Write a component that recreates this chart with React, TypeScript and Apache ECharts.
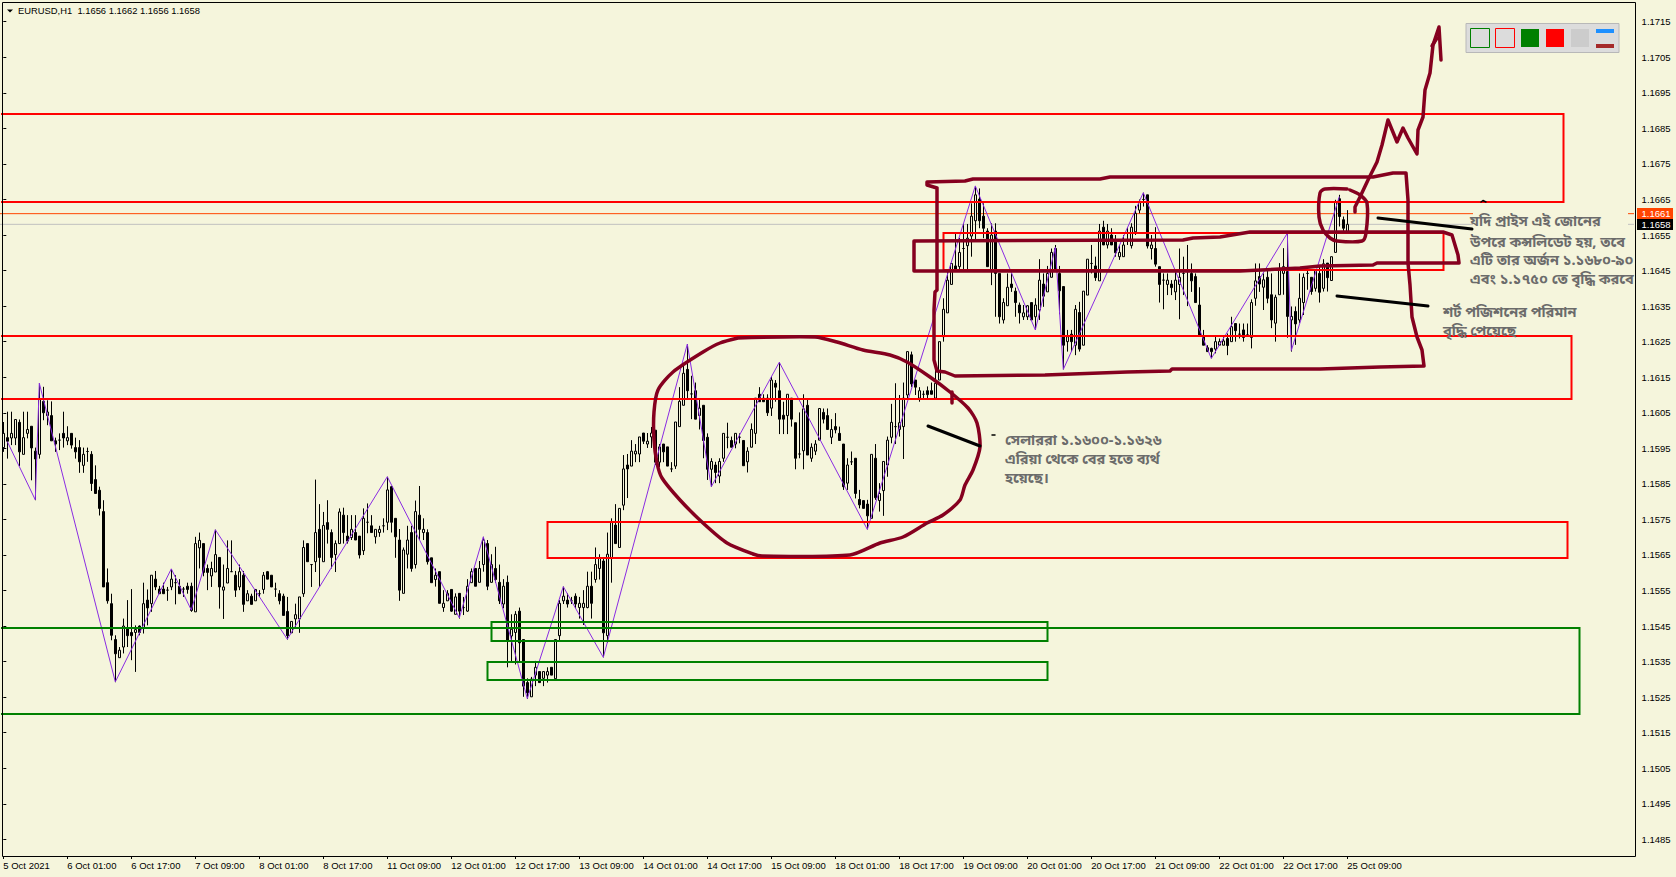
import React, { useEffect, useRef } from "react";
import * as echarts from "echarts";

const BG = "#f5f5dc";
const HAND = "#85001f";
const SCALE = 100000;
const BAR_SLOTS = 408;

const tickLabels = ["5 Oct 2021","6 Oct 01:00","6 Oct 17:00","7 Oct 09:00","8 Oct 01:00","8 Oct 17:00","11 Oct 09:00","12 Oct 01:00","12 Oct 17:00","13 Oct 09:00","14 Oct 01:00","14 Oct 17:00","15 Oct 09:00","18 Oct 01:00","18 Oct 17:00","19 Oct 09:00","20 Oct 01:00","20 Oct 17:00","21 Oct 09:00","22 Oct 01:00","22 Oct 17:00","25 Oct 09:00"];
const priceTicks = [1.1485,1.1495,1.1505,1.1515,1.1525,1.1535,1.1545,1.1555,1.1565,1.1575,1.1585,1.1595,1.1605,1.1615,1.1625,1.1635,1.1645,1.1655,1.1665,1.1675,1.1685,1.1695,1.1705,1.1715];

// open, close, low, high (in 1e-5 price units)
const candles = [
[115952,115992,115940,116024],[115980,115970,115921,116053],[115979,115992,115959,116053],[115979,116031,115959,116031],[116023,115940,115900,116031],[115933,115980,115933,116053],[115992,116003,115978,116053],[116012,115951,115860,116012],[115942,115920,115804,115952],[115933,116090,115921,116132],
[116082,116050,116029,116123],[116042,116052,116015,116085],[116042,115971,115971,116082],[115971,115962,115940,115980],[115973,115973,115945,115992],[115992,115979,115952,116053],[115971,115980,115959,116012],[115992,115959,115949,115992],[115952,115940,115921,115980],[115952,115912,115881,115973],
[115902,115933,115881,115952],[115941,115941,115912,115952],[115933,115851,115830,115942],[115862,115823,115823,115902],[115832,115781,115761,115842],[115772,115560,115560,115804],[115572,115521,115513,115612],[115513,115424,115410,115541],[115412,115372,115292,115424],[115361,115382,115361,115391],
[115391,115450,115373,115471],[115443,115423,115391,115523],[115432,115423,115354,115554],[115432,115440,115321,115452],[115450,115432,115424,115452],[115443,115513,115429,115572],[115523,115501,115452,115553],[115513,115593,115490,115593],[115582,115560,115551,115605],[115554,115541,115541,115563],
[115554,115541,115541,115572],[115551,115551,115521,115560],[115560,115582,115551,115610],[115572,115572,115511,115593],[115562,115541,115541,115582],[115554,115554,115532,115560],[115562,115553,115541,115572],[115562,115494,115490,115572],[115490,115682,115490,115701],[115670,115691,115612,115713],
[115682,115601,115590,115682],[115612,115601,115551,115623],[115591,115612,115560,115631],[115602,115651,115602,115721],[115643,115560,115499,115643],[115551,115560,115470,115623],[115571,115612,115571,115691],[115603,115603,115603,115691],[115593,115551,115532,115605],[115560,115603,115551,115623],
[115593,115511,115490,115605],[115521,115541,115521,115551],[115534,115511,115511,115541],[115521,115553,115521,115553],[115541,115541,115532,115551],[115553,115593,115541,115602],[115603,115582,115582,115605],[115593,115560,115560,115593],[115554,115554,115532,115572],[115541,115521,115511,115551],
[115534,115480,115480,115541],[115491,115423,115412,115532],[115431,115463,115431,115463],[115470,115482,115443,115513],[115470,115532,115431,115532],[115541,115671,115532,115691],[115682,115631,115631,115682],[115623,115623,115560,115623],[115631,115713,115602,115862],[115722,115643,115560,115793],
[115631,115733,115631,115771],[115741,115722,115682,115804],[115713,115643,115612,115722],[115651,115682,115602,115691],[115682,115771,115682,115781],[115762,115713,115682,115783],[115703,115689,115682,115762],[115699,115722,115692,115762],[115713,115692,115692,115762],[115703,115650,115640,115703],
[115662,115753,115650,115781],[115742,115742,115711,115795],[115732,115713,115713,115762],[115701,115722,115682,115722],[115713,115722,115701,115732],[115732,115732,115713,115753],[115742,115833,115720,115870],[115842,115742,115713,115844],[115753,115701,115642,115753],[115692,115551,115521,115723],
[115542,115664,115542,115671],[115652,115692,115612,115732],[115713,115612,115603,115732],[115623,115772,115612,115803],[115762,115722,115692,115844],[115713,115722,115692,115753],[115713,115631,115623,115722],[115642,115572,115572,115642],[115581,115593,115561,115612],[115603,115514,115514,115603],
[115502,115514,115490,115551],[115521,115542,115521,115551],[115553,115492,115490,115553],[115483,115532,115483,115542],[115542,115492,115471,115542],[115502,115502,115481,115532],[115492,115562,115490,115582],[115572,115603,115572,115612],[115612,115562,115562,115612],[115573,115612,115573,115633],
[115623,115692,115603,115701],[115682,115562,115551,115692],[115573,115623,115572,115652],[115612,115581,115572,115673],[115573,115521,115512,115623],[115512,115562,115500,115582],[115573,115410,115334,115592],[115422,115441,115351,115483],[115432,115483,115342,115492],[115492,115403,115351,115502],
[115412,115281,115251,115412],[115291,115262,115245,115303],[115251,115301,115251,115307],[115312,115334,115281,115352],[115322,115291,115291,115322],[115303,115322,115281,115322],[115312,115322,115291,115334],[115334,115312,115312,115334],[115302,115412,115302,115412],[115423,115514,115410,115523],
[115521,115534,115512,115561],[115523,115512,115502,115542],[115521,115521,115512,115532],[115534,115512,115500,115542],[115502,115514,115471,115532],[115502,115514,115453,115551],[115502,115562,115500,115603],[115562,115514,115471,115603],[115581,115623,115572,115671],[115612,115642,115581,115652],
[115633,115431,115362,115642],[115423,115652,115403,115713],[115642,115743,115572,115753],[115734,115682,115682,115793],[115671,115781,115671,115781],[115790,115892,115776,115931],[115903,115892,115810,115934],[115900,115942,115900,115973],[115934,115942,115911,115962],[115934,115982,115911,115982],
[115993,115970,115962,115993],[115962,115970,115951,115993],[115982,115993,115951,116010],[116001,115911,115903,116001],[115911,115954,115897,115962],[115962,115940,115911,115962],[115954,115900,115900,115954],[115892,115892,115883,115911],[115900,116024,115892,116024],[116011,116082,116011,116122],
[116071,116161,116071,116182],[116172,116112,116091,116243],[116103,116103,116032,116154],[116112,116032,116032,116135],[116042,116063,116003,116091],[116071,115972,115922,116071],[115981,115891,115861,115992],[115891,115913,115842,115922],[115903,115882,115852,115912],[115872,115913,115852,115922],
[115922,115992,115912,115992],[115981,115981,115950,116022],[115972,115953,115953,115983],[115962,115992,115950,115992],[115981,115981,115964,115992],[115972,115901,115901,115972],[115912,115942,115882,115953],[115953,116003,115953,116020],[115992,116091,115962,116091],[116102,116081,116081,116122],
[116091,116081,116081,116102],[116091,116050,116041,116102],[116063,116142,116041,116152],[116133,116122,116081,116142],[116112,116032,115990,116192],[116043,116032,115990,116081],[116042,116102,115990,116102],[116091,116032,116011,116091],[116022,115922,115891,116022],[115934,115934,115922,116051],
[115943,116061,115891,116102],[116071,115931,115931,116091],[115922,115953,115912,115964],[115942,115962,115931,115973],[115973,116062,115973,116062],[116051,116032,116020,116062],[116042,116003,116003,116062],[115981,116003,115962,116032],[116011,116002,115992,116049],[115992,115972,115972,116011],
[115962,115842,115833,115962],[115852,115903,115833,115922],[115912,115912,115903,115941],[115922,115823,115809,115922],[115806,115791,115781,115833],[115803,115781,115781,115803],[115793,115760,115722,115805],[115753,115933,115753,115933],[115922,115811,115805,115962],[115803,115823,115772,115852],
[115831,115913,115760,115913],[115903,115973,115870,115983],[115981,116023,115964,116075],[116011,116011,115962,116133],[116003,116022,115983,116100],[116011,116091,115920,116135],[116100,116222,116091,116222],[116213,116131,116122,116222],[116142,116122,116100,116142],[116091,116112,116081,116122],
[116102,116102,116091,116112],[116112,116101,116091,116124],[116112,116102,116102,116135],[116091,116133,116091,116189],[116142,116250,116142,116250],[116264,116341,116250,116372],[116331,116423,116331,116450],[116411,116470,116411,116470],[116463,116451,116451,116553],[116461,116501,116451,116542],
[116512,116512,116451,116581],[116520,116541,116451,116581],[116547,116603,116489,116639],[116590,116663,116538,116688],[116651,116590,116569,116681],[116603,116569,116541,116639],[116561,116461,116461,116569],[116451,116550,116409,116583],[116561,116442,116320,116583],[116442,116320,116301,116442],
[116311,116360,116301,116372],[116351,116403,116351,116442],[116412,116402,116390,116442],[116392,116360,116320,116402],[116353,116331,116301,116360],[116320,116331,116311,116353],[116320,116351,116311,116353],[116360,116311,116311,116360],[116320,116353,116283,116372],[116339,116423,116311,116482],
[116412,116378,116348,116442],[116390,116442,116390,116463],[116431,116501,116431,116512],[116512,116451,116451,116522],[116442,116393,116327,116463],[116405,116240,116172,116405],[116250,116264,116222,116283],[116271,116250,116222,116283],[116240,116341,116212,116353],[116332,116229,116222,116362],
[116240,116392,116240,116392],[116381,116482,116381,116482],[116470,116470,116442,116522],[116463,116430,116421,116489],[116421,116561,116421,116581],[116572,116522,116522,116590],[116522,116561,116512,116581],[116550,116522,116522,116569],[116531,116500,116489,116550],[116489,116501,116480,116522],
[116489,116522,116489,116550],[116536,116536,116522,116572],[116520,116572,116512,116583],[116559,116611,116550,116632],[116620,116641,116611,116650],[116650,116650,116630,116669],[116663,116519,116512,116663],[116512,116522,116481,116550],[116512,116468,116461,116572],[116461,116411,116360,116461],
[116423,116423,116341,116442],[116411,116423,116381,116442],[116412,116402,116381,116423],[116390,116423,116367,116451],[116411,116431,116313,116512],[116442,116442,116381,116489],[116451,116451,116350,116522],[116442,116421,116390,116470],[116433,116360,116360,116442],[116353,116269,116269,116403],
[116264,116240,116240,116283],[116233,116222,116222,116240],[116231,116222,116203,116233],[116229,116250,116217,116264],[116240,116250,116240,116259],[116240,116252,116240,116264],[116259,116239,116212,116273],[116250,116292,116250,116320],[116301,116281,116250,116301],[116271,116271,116259,116301],
[116283,116262,116250,116301],[116269,116269,116264,116301],[116262,116360,116231,116369],[116372,116421,116351,116470],[116433,116412,116390,116470],[116403,116424,116339,116442],[116431,116372,116358,116452],[116382,116311,116288,116442],[116302,116375,116250,116382],[116382,116452,116382,116471],
[116442,116461,116382,116513],[116447,116321,116261,116555],[116311,116321,116222,116349],[116335,116300,116241,116349],[116311,116372,116302,116442],[116360,116431,116325,116442],[116442,116442,116396,116452],[116431,116391,116382,116431],[116400,116452,116391,116452],[116442,116389,116360,116461],
[116400,116469,116391,116482],[116471,116430,116391,116471],[116422,116489,116422,116489],[116501,116644,116501,116649],[116652,116602,116574,116663],[116593,116569,116560,116602],[116560,116580,116560,116620],
];

const zigzagBars = [1,8,9,28,42,47,53,71,96,114,120,131,140,150,171,177,194,216,243,258,263,265,285,302,321,322,334];
const zigzagPrices = [1.15969,1.15805,1.16133,1.15293,1.15611,1.15495,1.15721,1.15413,1.1587,1.15473,1.15701,1.15246,1.15561,1.15362,1.16243,1.15842,1.16192,1.15722,1.16688,1.16283,1.16515,1.16172,1.16669,1.16203,1.16555,1.16225,1.16658];

// bar from, bar to, price top, price bottom, kind (0 red, 1 green)
const zones = [
  [-4, 390, 1.1689, 1.16643, 0],
  [-4, 391.9, 1.16267, 1.16089, 0],
  [135.9, 391, 1.15743, 1.15642, 0],
  [234.9, 360, 1.16556, 1.16452, 0],
  [-4, 393.9, 1.15445, 1.15203, 1],
  [121.9, 261, 1.15461, 1.15408, 1],
  [120.9, 261, 1.1535, 1.15298, 1],
];

const askPrice = 1.1661;
const bidPrice = 1.1658;

const ellipseStroke = [[738,338],[815,337],[837,342],[863,350],[890,355],[907,362],[930,377],[950,392],[968,408],[977,423],[980,447],[973,470],[965,485],[960,500],[943,515],[927,523],[903,537],[880,543],[850,555],[762,556],[753,554],[727,543],[703,523],[680,500],[662,478],[657,463],[654,440],[654,412],[658,390],[673,372],[703,352],[720,343],[738,338]];
const ellipseTick = [[952,392],[952,403]];
const boxStroke = [[937,188],[927,185],[927,182],[965,181],[973,179],[1100,179],[1110,177],[1260,177],[1373,177],[1393,173],[1406,173],[1408,200],[1408,263],[1410,285],[1412,317],[1417,337],[1422,350],[1424,366],[1380,367],[1320,369],[1172,369],[1170,371],[1127,372],[1045,375],[955,376],[945,372],[937,371],[934,360],[934,310],[935,292],[937,290],[937,188]];
const channelStroke = [[914,241],[1183,240],[1193,238],[1220,237],[1250,232],[1443,232],[1452,235],[1458,255],[1459,263],[1377,263],[1373,265],[1320,266],[1300,268],[1240,271],[914,271],[914,241]];
const circleStroke = [[1347,189],[1325,189],[1320,193],[1319,217],[1323,230],[1330,238],[1337,241],[1362,241],[1366,233],[1367,203],[1360,195],[1350,190]];
const arrowStroke = [[1355,212],[1355,207],[1360,197],[1368,180],[1377,162],[1382,145],[1388,120],[1397,142],[1403,128],[1408,138],[1417,154],[1418,130],[1423,117],[1425,90],[1430,73],[1433,45],[1439,27],[1441,60]];
const arrowBarb = [[1432,46],[1437,38]];
const blackStrokes = [
  [[928,426],[980,446]],
  [[1378,218],[1472,229]],
  [[1337,296],[1428,306]],
];
const inkMarks = [
  [[1481,202],[1483,200.5],[1486,202]],
  [[992,435],[995,435]],
];

const noteLines = [
  { text: "যদি প্রাইস এই জোনের", x: 1470, y: 220 },
  { text: "উপরে কন্সলিডেট হয়, তবে", x: 1470, y: 241 },
  { text: "এটি তার অর্জন ১.১৬৮০-৯০", x: 1470, y: 259 },
  { text: "এবং ১.১৭৫০ তে বৃদ্ধি করবে", x: 1470, y: 278 },
  { text: "শর্ট পজিশনের পরিমান", x: 1443, y: 311 },
  { text: "বৃদ্ধি পেয়েছে", x: 1443, y: 330 },
  { text: "সেলাররা ১.১৬০০-১.১৬২৬", x: 1005, y: 439 },
  { text: "এরিয়া থেকে বের হতে ব্যর্থ", x: 1005, y: 458 },
  { text: "হয়েছে।", x: 1005, y: 477 },
];

function stroke(points: number[][], color: string, lineWidth: number, smooth = 0) {
  return {
    type: "polyline", z: 60, silent: true,
    shape: { points, smooth },
    style: { stroke: color, lineWidth, fill: "none", lineJoin: "round", lineCap: "round" },
  };
}
function box(x: number, y: number, width: number, height: number, fill: string, strokeColor?: string, z = 70) {
  return {
    type: "rect", z, silent: true,
    shape: { x, y, width, height },
    style: { fill, stroke: strokeColor ?? "none", lineWidth: strokeColor ? 1 : 0 },
  };
}
function label(text: string, x: number, y: number, fill: string, size: number, family: string, z = 80, weight = "normal") {
  return {
    type: "text", z, silent: true, x, y,
    style: { text, fill, fontSize: size, fontFamily: family, fontWeight: weight, align: "left", verticalAlign: "middle" },
  };
}

const UI_FONT = "'Liberation Sans', sans-serif";
const NOTE_FONT = "'Noto Sans', 'Noto Sans Bengali', sans-serif";

export default function App() {
  const ref = useRef<HTMLDivElement>(null);
  useEffect(() => {
    document.body.style.margin = "0";
    document.body.style.overflow = "hidden";
    document.body.style.background = BG;
    const chart = echarts.init(ref.current!, undefined, { renderer: "svg" });
    const categories = Array.from({ length: BAR_SLOTS }, (_, i) =>
      i % 16 === 0 && i / 16 < tickLabels.length ? tickLabels[i / 16] : ""
    );
    const showTick = (i: number) => i % 16 === 0 && i / 16 < tickLabels.length;
    chart.setOption({
      animation: false,
      backgroundColor: BG,
      grid: { left: 1.3, top: 2.5, width: 1632, height: 853.5, containLabel: false },
      xAxis: [
        {
          type: "category", data: categories, boundaryGap: true,
          axisLine: { show: false },
          axisTick: { show: true, length: 3, alignWithLabel: true, interval: showTick, lineStyle: { color: "#000" } },
          axisLabel: { show: true, interval: showTick, align: "left", margin: 4, color: "#000", fontSize: 9.5, fontFamily: UI_FONT, hideOverlap: false },
          splitLine: { show: false },
        },
        { type: "value", min: -0.5, max: BAR_SLOTS - 0.5, show: false, splitLine: { show: false } },
      ],
      yAxis: {
        type: "value", position: "right", offset: 2.3, min: 1.148032, max: 1.17204, scale: true,
        axisLine: { show: false },
        axisTick: { show: true, length: 3, customValues: priceTicks, lineStyle: { color: "#000" } },
        axisLabel: { show: true, customValues: priceTicks, margin: 6, color: "#000", fontSize: 9.5, fontFamily: UI_FONT, formatter: (v: number) => v.toFixed(4) },
        splitLine: { show: false },
      },
      series: [
        {
          type: "line", xAxisIndex: 1, yAxisIndex: 0, z: 1, symbol: "none", silent: true,
          lineStyle: { color: "#ff4500", width: 1 },
          data: [[-1, askPrice], [BAR_SLOTS, askPrice]],
        },
        {
          type: "line", xAxisIndex: 1, yAxisIndex: 0, z: 1, symbol: "none", silent: true,
          lineStyle: { color: "#c0c0c0", width: 1 },
          data: [[-1, bidPrice], [BAR_SLOTS, bidPrice]],
        },
        {
          type: "candlestick", xAxisIndex: 0, yAxisIndex: 0, z: 2, barWidth: 3, silent: true,
          itemStyle: { color: BG, color0: "#000", borderColor: "#000", borderColor0: "#000", borderWidth: 1 },
          data: candles.map((c) => c.map((v) => v / SCALE)),
        },
        {
          type: "line", xAxisIndex: 1, yAxisIndex: 0, z: 3, symbol: "none", silent: true,
          lineStyle: { color: "#8a2be2", width: 1 },
          data: zigzagBars.map((b, i) => [b, zigzagPrices[i]]),
        },
        {
          type: "custom", xAxisIndex: 1, yAxisIndex: 0, z: 4, silent: true, clip: true,
          encode: { x: [0, 1], y: [2, 3] },
          data: zones,
          renderItem: (_p: any, api: any) => {
            const a = api.coord([api.value(0), api.value(2)]);
            const b = api.coord([api.value(1), api.value(3)]);
            const x0 = Math.round(a[0]) + 0.5;
            const y0 = Math.round(a[1]);
            return {
              type: "rect",
              shape: { x: x0, y: y0, width: Math.round(b[0] - a[0]), height: Math.round(b[1] - a[1]) },
              style: { fill: "rgba(0,0,0,0)", stroke: api.value(4) === 1 ? "#008000" : "#ff0000", lineWidth: 2 },
            };
          },
        },
      ],
      graphic: {
        elements: [
          { type: "rect", z: 5, silent: true, shape: { x: 2.5, y: 2.5, width: 1633, height: 854 }, style: { fill: "none", stroke: "#000", lineWidth: 1 } },
          stroke(ellipseStroke, HAND, 3.5, 0.25),
          stroke(ellipseTick, HAND, 3.5),
          stroke(boxStroke, HAND, 3.5),
          stroke(channelStroke, HAND, 3.5),
          stroke(circleStroke, HAND, 3.5, 0.3),
          stroke(arrowStroke, HAND, 3.5),
          stroke(arrowBarb, HAND, 3.5),
          ...blackStrokes.map((s) => stroke(s, "#000", 3)),
          ...inkMarks.map((s) => stroke(s, "#000", 1.5)),
          box(1473, 205, 155, 85, BG, undefined, 55),
          // toolbar panel
          box(1466, 23.5, 153, 29, "#dcdcdc", "#b8b8b8"),
          box(1470.5, 28.5, 19, 19, "#dcdcdc", "#008000", 71),
          box(1495.5, 28.5, 19, 19, "#dcdcdc", "#ff0000", 71),
          box(1521, 29, 18, 18, "#008000", undefined, 71),
          box(1546, 29, 18, 18, "#ff0000", undefined, 71),
          box(1571, 29, 18, 18, "#cccccc", undefined, 71),
          box(1596, 29, 18, 4, "#1e90ff", undefined, 71),
          box(1596, 44, 18, 4, "#a52a2a", undefined, 71),
          // current price tags
          box(1637, 208, 36, 11, "#ff4500"),
          box(1637, 219, 36, 11, "#000"),
          label("1.1661", 1641.5, 213.5, "#fff", 9.5, UI_FONT),
          label("1.1658", 1641.5, 224.5, "#fff", 9.5, UI_FONT),
          // header
          { type: "polygon", z: 80, silent: true, shape: { points: [[7, 9.5], [13, 9.5], [10, 12.5]] }, style: { fill: "#000" } },
          label("EURUSD,H1  1.1656 1.1662 1.1656 1.1658", 18, 10, "#000", 9.4, UI_FONT),
          // notes
          ...noteLines.map((n) => label(n.text, n.x, n.y, "#6b6b6b", 14.5, NOTE_FONT, 80, "bold")),
        ],
      },
    });
    return () => chart.dispose();
  }, []);
  return <div ref={ref} style={{ width: 1676, height: 877 }} />;
}
